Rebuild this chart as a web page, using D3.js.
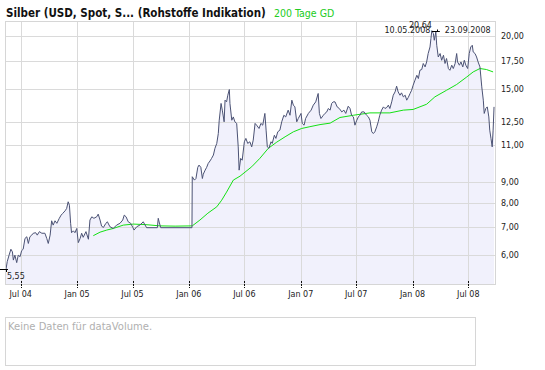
<!DOCTYPE html>
<html><head><meta charset="utf-8">
<script src="https://cdn.jsdelivr.net/npm/d3@7"></script>
<style>body{margin:0;background:#fff}svg{display:block}</style>
</head><body>
<svg id="c" width="545" height="370"></svg>
<script>
const titleText = "Silber (USD, Spot, S... (Rohstoffe Indikation)";
const legendText = "200 Tage GD";
const volumeText = "Keine Daten für dataVolume.";
const rangeLabels = ["10.05.2008", "23.09.2008"];
const yTicks = [6, 7, 8, 9, 11, 12.5, 15, 17.5, 20];

const priceDates = [
"2004-05-14","2004-05-18","2004-05-24","2004-05-30","2004-06-04","2004-06-07","2004-06-12","2004-06-18","2004-06-23","2004-06-29",
"2004-07-04","2004-07-09","2004-07-15","2004-07-21","2004-07-26","2004-07-31","2004-08-06","2004-08-11","2004-08-19","2004-08-24",
"2004-08-31","2004-09-08","2004-09-18","2004-09-24","2004-09-29","2004-10-05","2004-10-10","2004-10-15","2004-10-21","2004-10-27",
"2004-11-04","2004-11-10","2004-11-15","2004-11-23","2004-11-28","2004-12-03","2004-12-07","2004-12-11","2004-12-14","2004-12-20",
"2004-12-25","2004-12-31","2005-01-05","2005-01-11","2005-01-16","2005-01-21","2005-01-30","2005-02-07","2005-02-12","2005-02-18",
"2005-02-25","2005-03-06","2005-03-11","2005-03-17","2005-03-22","2005-03-28","2005-04-05","2005-04-10","2005-04-18","2005-04-29",
"2005-05-10","2005-05-21","2005-05-30","2005-06-04","2005-06-10","2005-06-17","2005-06-25","2005-07-02","2005-07-06","2005-07-15",
"2005-07-25","2005-08-05","2005-08-16","2005-09-20","2005-09-23","2005-09-26","2005-10-01","2006-01-11","2006-01-12","2006-01-19",
"2006-01-24","2006-01-30","2006-02-03","2006-02-09","2006-02-14","2006-02-17","2006-02-23","2006-02-28","2006-03-05","2006-03-11",
"2006-03-16","2006-03-22","2006-03-27","2006-04-02","2006-04-07","2006-04-10","2006-04-16","2006-04-20","2006-04-26","2006-04-29",
"2006-05-04","2006-05-08","2006-05-13","2006-05-15","2006-05-21","2006-05-26","2006-05-31","2006-06-06","2006-06-11","2006-06-14",
"2006-06-19","2006-06-24","2006-07-01","2006-07-06","2006-07-12","2006-07-19","2006-07-25","2006-07-30","2006-08-05","2006-08-10",
"2006-08-18","2006-08-24","2006-08-30","2006-09-06","2006-09-10","2006-09-14","2006-09-19","2006-09-26","2006-09-30","2006-10-07",
"2006-10-12","2006-10-18","2006-10-25","2006-10-31","2006-11-07","2006-11-13","2006-11-21","2006-11-27","2006-12-03","2006-12-08",
"2006-12-13","2006-12-19","2006-12-24","2007-01-02","2007-01-06","2007-01-12","2007-01-17","2007-01-26","2007-02-04","2007-02-11",
"2007-02-19","2007-02-27","2007-03-03","2007-03-08","2007-03-16","2007-03-21","2007-03-27","2007-04-01","2007-04-07","2007-04-12",
"2007-04-17","2007-04-23","2007-04-30","2007-05-07","2007-05-15","2007-05-22","2007-05-28","2007-06-05","2007-06-11","2007-06-16",
"2007-06-22","2007-06-27","2007-07-03","2007-07-08","2007-07-13","2007-07-19","2007-07-27","2007-08-04","2007-08-10","2007-08-15",
"2007-08-21","2007-08-26","2007-08-31","2007-09-06","2007-09-11","2007-09-16","2007-09-22","2007-09-28","2007-10-03","2007-10-09",
"2007-10-14","2007-10-19","2007-10-25","2007-10-30","2007-11-05","2007-11-10","2007-11-15","2007-11-21","2007-11-26","2007-12-02",
"2007-12-08","2007-12-13","2007-12-18","2007-12-24","2007-12-29","2008-01-03","2008-01-09","2008-01-15","2008-01-20","2008-01-25",
"2008-01-31","2008-02-05","2008-02-11","2008-02-16","2008-02-21","2008-02-27","2008-03-01","2008-03-04","2008-03-09","2008-03-12",
"2008-03-17","2008-03-20","2008-03-25","2008-03-31","2008-04-05","2008-04-11","2008-04-16","2008-04-21","2008-04-27","2008-05-02",
"2008-05-08","2008-05-13","2008-05-19","2008-05-24","2008-05-27","2008-06-02","2008-06-07","2008-06-13","2008-06-18","2008-06-23",
"2008-06-29","2008-07-04","2008-07-09","2008-07-14","2008-07-17","2008-07-23","2008-07-28","2008-08-02","2008-08-08","2008-08-11",
"2008-08-14","2008-08-19","2008-08-22","2008-08-27","2008-09-01","2008-09-06","2008-09-09","2008-09-13","2008-09-17","2008-09-20",
"2008-09-23"];
const priceValues = [
5.55,5.79,6.00,6.20,6.11,5.84,6.00,5.76,6.00,5.95,
6.15,6.20,6.58,6.64,6.40,6.64,6.70,6.77,6.79,6.70,
6.83,6.77,6.77,6.58,6.40,6.70,7.25,7.08,7.25,7.15,
7.35,7.48,7.55,7.66,7.76,8.05,7.90,7.15,6.79,6.86,
6.79,6.95,6.43,6.58,6.77,6.62,6.83,6.55,7.28,7.41,
7.35,7.41,7.52,7.28,7.04,6.99,7.15,7.21,7.02,6.95,
7.08,7.15,7.28,7.48,7.41,7.21,7.15,6.99,6.89,7.02,
7.08,7.21,6.98,6.98,7.35,7.20,6.98,6.98,9.24,9.07,
9.15,9.73,9.85,9.73,9.15,9.37,9.58,9.73,9.94,10.08,
10.22,10.41,10.80,11.10,11.72,12.61,13.83,13.33,12.50,14.08,
13.95,14.47,14.93,13.83,12.61,12.84,12.50,12.39,10.89,9.58,
10.22,10.12,11.20,11.41,11.10,11.20,10.89,11.30,12.39,12.27,
12.05,12.39,12.27,13.09,11.94,10.89,10.80,11.20,11.10,11.61,
11.41,11.83,11.94,12.50,12.96,12.84,13.33,12.96,14.08,13.70,
13.57,12.50,12.73,13.09,12.39,12.27,12.73,13.09,13.33,13.70,
13.95,14.61,13.09,12.73,12.96,13.09,13.20,13.45,13.33,13.83,
13.95,13.95,13.57,13.45,13.20,13.33,13.09,13.62,13.45,12.96,
12.84,12.27,12.61,12.84,12.96,13.20,13.20,12.96,12.84,12.61,
11.83,11.72,11.83,12.16,12.50,12.96,13.33,13.57,13.45,13.53,
13.70,13.45,13.95,14.47,14.74,15.21,14.74,14.47,14.66,14.34,
14.47,14.08,14.29,14.61,14.87,15.29,15.72,16.15,15.86,16.60,
16.67,17.23,16.91,17.38,18.20,18.87,19.76,20.64,20.32,19.58,
20.50,19.05,17.86,18.20,17.54,18.03,17.23,17.71,16.76,16.60,
17.07,16.76,17.23,18.20,17.38,17.07,17.38,16.91,17.54,17.07,
16.76,18.20,18.87,19.05,18.36,18.20,17.86,17.38,16.91,16.00,
15.15,14.08,13.09,13.45,13.57,12.84,11.94,11.41,10.89,11.94,
13.57];

const maDates = [
"2005-02-23","2005-03-17","2005-04-08","2005-04-29","2005-06-01","2005-07-04","2005-08-11","2005-09-29","2005-11-17","2006-01-12",
"2006-02-06","2006-03-04","2006-04-02","2006-04-18","2006-05-04","2006-05-26","2006-06-17","2006-07-25","2006-08-21","2006-09-17",
"2006-10-15","2006-11-11","2006-12-08","2007-01-04","2007-01-31","2007-03-05","2007-04-07","2007-05-09","2007-06-22","2007-08-15",
"2007-10-19","2007-12-02","2008-01-03","2008-02-16","2008-03-14","2008-04-21","2008-05-24","2008-06-26","2008-07-17","2008-08-08",
"2008-08-29","2008-09-20"];
const maValues = [
6.68,6.81,6.89,6.95,7.08,7.12,7.10,7.05,7.04,7.05,
7.28,7.56,7.83,8.12,8.49,9.07,9.27,9.76,10.23,10.80,
11.18,11.51,11.83,12.05,12.17,12.31,12.41,12.80,12.96,13.13,
13.13,13.33,13.38,13.77,14.34,14.87,15.35,16.00,16.45,16.76,
16.67,16.45];

const parse = d3.utcParse("%Y-%m-%d");
const price = priceDates.map((d, i) => ({date: parse(d), value: priceValues[i]}));
const ma = maDates.map((d, i) => ({date: parse(d), value: maValues[i]}));

const P = {l: 5.5, r: 495.5, t: 21.5, b: 284.5};
const x = d3.scaleUtc().domain([parse("2004-07-01"), parse("2008-07-01")]).range([20.7, 468.3]);
const y = d3.scaleLog().domain([5.12, 21.77]).range([284, 21]);
const de = d3.formatLocale({decimal: ",", thousands: ".", grouping: [3], currency: ["", "€"]});
const fmt = de.format(".2f");

const svg = d3.select("#c");
const FONT = "'DejaVu Sans', Verdana, sans-serif";

svg.append("rect").attr("width", 545).attr("height", 370).attr("fill", "#fff");

svg.append("defs").append("clipPath").attr("id", "clip")
  .append("rect").attr("x", P.l).attr("y", P.t).attr("width", P.r - P.l).attr("height", P.b - P.t);

const g = svg.append("g").attr("clip-path", "url(#clip)");
g.append("path").datum(price)
  .attr("fill", "#f1f1fc")
  .attr("d", d3.area().x(d => x(d.date)).y0(P.b).y1(d => y(d.value)));

const xTicks = x.ticks(d3.utcMonth.every(6)).filter(t => x(t) > P.l && x(t) < P.r);
const grid = svg.append("g").attr("stroke", "#dadada").attr("stroke-width", 1);
grid.selectAll(".v").data(xTicks).join("line")
  .attr("x1", d => Math.round(x(d)) + 0.5).attr("x2", d => Math.round(x(d)) + 0.5)
  .attr("y1", P.t).attr("y2", P.b);
grid.selectAll(".h").data(yTicks).join("line")
  .attr("x1", P.l).attr("x2", P.r)
  .attr("y1", d => Math.round(y(d)) + 0.5).attr("y2", d => Math.round(y(d)) + 0.5);

const g2 = svg.append("g").attr("clip-path", "url(#clip)");
g2.append("path").datum(ma)
  .attr("fill", "none").attr("stroke", "#14e014").attr("stroke-width", 1)
  .attr("d", d3.line().x(d => x(d.date)).y(d => y(d.value)));
g2.append("path").datum(price)
  .attr("fill", "none").attr("stroke", "#4b5274").attr("stroke-width", 1)
  .attr("d", d3.line().x(d => x(d.date)).y(d => y(d.value)));

svg.append("rect").attr("x", P.l).attr("y", P.t).attr("width", P.r - P.l).attr("height", P.b - P.t)
  .attr("fill", "none").attr("stroke", "#d6d6d6");

// x axis ticks + labels
const xa = svg.append("g");
xa.selectAll("line").data(xTicks).join("line")
  .attr("x1", d => Math.round(x(d)) + 0.5).attr("x2", d => Math.round(x(d)) + 0.5)
  .attr("y1", 281).attr("y2", 288).attr("stroke", "#111").attr("stroke-dasharray", "2,1");
xa.selectAll("text").data(xTicks).join("text")
  .attr("x", d => x(d)).attr("y", 296.5).attr("text-anchor", "middle")
  .attr("font-family", FONT).attr("font-size", 8).attr("fill", "#222")
  .text(d3.utcFormat("%b %y"));

// y labels
svg.append("g").selectAll("text").data(yTicks).join("text")
  .attr("x", 501).attr("y", d => y(d) + 3)
  .attr("font-family", FONT).attr("font-size", 8).attr("fill", "#222")
  .text(fmt);

// min / max markers
const minP = price.reduce((a, b) => b.value < a.value ? b : a);
const maxP = price.reduce((a, b) => b.value > a.value ? b : a);
const mx = x(minP.date), my = y(minP.value);
svg.append("path").attr("fill", "none").attr("stroke", "#000")
  .attr("d", `M${mx - 6},${Math.round(my) + 0.5}H${mx + 2}M${Math.round(mx) + 0.5},${Math.round(my)}v3`);
svg.append("text").attr("x", mx + 1).attr("y", my + 10)
  .attr("font-family", FONT).attr("font-size", 8).attr("fill", "#222").text(fmt(minP.value));
const Mx = x(maxP.date), My = y(maxP.value);
svg.append("path").attr("fill", "none").attr("stroke", "#000")
  .attr("d", `M${Mx},${Math.round(My) + 0.5}H${Mx + 8}M${Math.round(Mx + 5) + 0.5},${Math.round(My) + 0.5}v-2`);
svg.append("text").attr("x", Mx).attr("y", My - 2.4).attr("text-anchor", "end")
  .attr("font-family", FONT).attr("font-size", 8).attr("fill", "#222").text(fmt(maxP.value));
svg.append("text").attr("x", Mx - 1.5).attr("y", My + 2).attr("text-anchor", "end")
  .attr("font-family", FONT).attr("font-size", 8).attr("fill", "#222").text(rangeLabels[0]);
svg.append("text").attr("x", Mx + 13).attr("y", My + 2)
  .attr("font-family", FONT).attr("font-size", 8).attr("fill", "#222").text(rangeLabels[1]);

// title
const t = svg.append("text").attr("x", 6).attr("y", 17)
  .attr("font-family", "'DejaVu Sans Condensed', 'DejaVu Sans', sans-serif")
  .attr("font-stretch", "condensed");
t.append("tspan").attr("font-weight", "bold").attr("font-size", 11.5).attr("fill", "#111").text(titleText);
t.append("tspan").attr("x", 274).attr("font-size", 10.5).attr("fill", "#22cc22").text(legendText);

// volume panel
svg.append("rect").attr("x", 5.5).attr("y", 317.5).attr("width", 470).attr("height", 48)
  .attr("fill", "#fff").attr("stroke", "#d6d6d6");
svg.append("text").attr("x", 8).attr("y", 329.5)
  .attr("font-family", FONT).attr("font-size", 10).attr("fill", "#b0b0b0").text(volumeText);
</script>
</body></html>
